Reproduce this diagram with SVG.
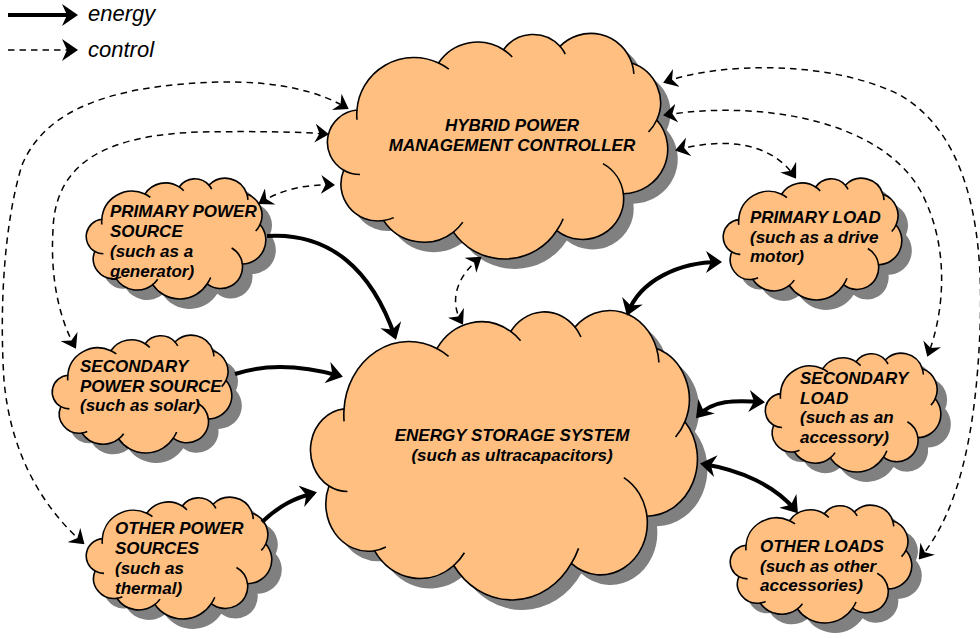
<svg xmlns="http://www.w3.org/2000/svg" xmlns:xlink="http://www.w3.org/1999/xlink" width="980" height="639" viewBox="0 0 980 639">
<style>
.shadow{fill:#808080;stroke:none}
.body{fill:#FFBF80;stroke:#000;stroke-width:1.6}
.t{font-family:"Liberation Sans",Arial,sans-serif;font-size:17px;font-weight:bold;font-style:italic;fill:#000}
.leg{font-family:"Liberation Sans",Arial,sans-serif;font-size:22px;font-style:italic;fill:#000}
.energy{fill:none;stroke:#000;stroke-width:4;marker-start:url(#ah);marker-end:url(#ah)}
.control{fill:none;stroke:#000;stroke-width:1.5;stroke-dasharray:6.5 5;marker-start:url(#ch);marker-end:url(#ch)}
</style>
<defs>
<marker id="ah" markerUnits="userSpaceOnUse" viewBox="0 0 16 22" markerWidth="16" markerHeight="22" refX="13" refY="11" orient="auto-start-reverse"><path d="M0,0 L16,11 L0,22 L5,11 Z" fill="#000"/></marker>
<marker id="ch" markerUnits="userSpaceOnUse" viewBox="0 0 14 19" markerWidth="14" markerHeight="19" refX="12" refY="9.5" orient="auto-start-reverse"><path d="M0,0 L14,9.5 L0,19 L4.5,9.5 Z" fill="#000"/></marker>
<symbol id="cloud" viewBox="0 0 150 100" preserveAspectRatio="none" overflow="visible">
<path vector-effect="non-scaling-stroke" d="M13.1,34.1 A25,25 0 0,1 48.8,13.3 A20.5,20.5 0 0,1 77.2,7.4 A15.8,15.8 0 0,1 101.9,5.9 A18.8,18.8 0 0,1 133.3,13.3 A18.5,18.5 0 0,1 144.2,38.5 A19.7,19.7 0 0,1 129.6,71.1 A18,18 0 0,1 100.5,87.4 A27,27 0 0,1 55.3,88.1 A20.9,20.9 0 0,1 24.8,83 A16.3,16.3 0 0,1 7.3,60.7 A14.3,14.3 0 0,1 13.1,34.1 Z"/>
<path vector-effect="non-scaling-stroke" fill="none" d="M48.8,13.3 A25,25 0 0,1 53.3,16 M77.2,7.4 A20.5,20.5 0 0,1 81,10.6 M101.9,5.9 A15.8,15.8 0 0,1 104.2,9.3 M133.3,13.3 A18.8,18.8 0 0,1 134.2,18.1 M144.2,38.5 A18.5,18.5 0 0,1 140.6,43.8 M120.7,57.8 A18,18 0 0,1 129.6,71.1 M103.3,82.2 A27,27 0 0,1 100.5,87.4 M59.4,83.7 A20.9,20.9 0 0,1 55.3,88.1 M29.2,81.7 A16.3,16.3 0 0,1 24.8,83 M14.4,62.6 A14.3,14.3 0 0,1 7.3,60.7 M13.1,38.4 A25,25 0 0,1 13.1,34.1"/>
</symbol>
</defs>
<rect width="980" height="639" fill="#fff"/>

<g id="legend">
<path d="M8,15 H75" fill="none" stroke="#000" stroke-width="4" marker-end="url(#ah)"/>
<text class="leg" x="88" y="21">energy</text>
<path d="M8,50 H75" fill="none" stroke="#000" stroke-width="1.5" stroke-dasharray="6.5 5" marker-end="url(#ah)"/>
<text class="leg" x="88" y="57">control</text>
</g>

<g id="controller">
<use xlink:href="#cloud" class="shadow" x="337" y="43" width="343" height="226"/>
<use xlink:href="#cloud" class="body" x="327" y="33" width="343" height="226"/>
<text class="t" text-anchor="middle" x="512" y="131">HYBRID POWER</text>
<text class="t" text-anchor="middle" x="512" y="151">MANAGEMENT CONTROLLER</text>
</g>

<g id="primary-source">
<use xlink:href="#cloud" class="shadow" x="96" y="188" width="181" height="121"/>
<use xlink:href="#cloud" class="body" x="86" y="178" width="181" height="121"/>
<text class="t" x="110" y="217">PRIMARY POWER</text>
<text class="t" x="110" y="237">SOURCE</text>
<text class="t" x="110" y="257">(such as a</text>
<text class="t" x="110" y="277">generator)</text>
</g>

<g id="secondary-source">
<use xlink:href="#cloud" class="shadow" x="62" y="345" width="181" height="118"/>
<use xlink:href="#cloud" class="body" x="52" y="335" width="181" height="118"/>
<text class="t" x="80" y="372">SECONDARY</text>
<text class="t" x="80" y="392">POWER SOURCE</text>
<text class="t" x="80" y="411">(such as solar)</text>
</g>

<g id="other-sources">
<use xlink:href="#cloud" class="shadow" x="96" y="507" width="187" height="122"/>
<use xlink:href="#cloud" class="body" x="86" y="497" width="187" height="122"/>
<text class="t" x="115" y="534">OTHER POWER</text>
<text class="t" x="115" y="554">SOURCES</text>
<text class="t" x="115" y="574">(such as</text>
<text class="t" x="115" y="594">thermal)</text>
</g>

<g id="primary-load">
<use xlink:href="#cloud" class="shadow" x="733" y="188" width="180" height="122"/>
<use xlink:href="#cloud" class="body" x="723" y="178" width="180" height="122"/>
<text class="t" x="750" y="223">PRIMARY LOAD</text>
<text class="t" x="750" y="243">(such as a drive</text>
<text class="t" x="750" y="262">motor)</text>
</g>

<g id="secondary-load">
<use xlink:href="#cloud" class="shadow" x="775" y="363" width="177" height="119"/>
<use xlink:href="#cloud" class="body" x="765" y="353" width="177" height="119"/>
<text class="t" x="800" y="384">SECONDARY</text>
<text class="t" x="800" y="404">LOAD</text>
<text class="t" x="800" y="423">(such as an</text>
<text class="t" x="800" y="443">accessory)</text>
</g>

<g id="other-loads">
<use xlink:href="#cloud" class="shadow" x="740" y="515" width="183" height="118"/>
<use xlink:href="#cloud" class="body" x="730" y="505" width="183" height="118"/>
<text class="t" x="760" y="552">OTHER LOADS</text>
<text class="t" x="760" y="572">(such as other</text>
<text class="t" x="760" y="591">accessories)</text>
</g>

<g id="storage">
<use xlink:href="#cloud" class="shadow" x="320" y="320" width="390" height="290"/>
<use xlink:href="#cloud" class="body" x="310" y="310" width="390" height="290"/>
<text class="t" text-anchor="middle" x="512" y="441">ENERGY STORAGE SYSTEM</text>
<text class="t" text-anchor="middle" x="512" y="461">(such as ultracapacitors)</text>
</g>

<g id="connectors">
<path d="M267,236 C330,232 372,270 395,337" fill="none" stroke="#000" stroke-width="4" marker-end="url(#ah)"/>
<path d="M235,374 C265,364 300,365 340,376" fill="none" stroke="#000" stroke-width="4" marker-end="url(#ah)"/>
<path d="M262,522 C280,505 295,498 314,493" fill="none" stroke="#000" stroke-width="4" marker-end="url(#ah)"/>
<path class="energy" d="M628,313 C640,280 680,262 719,262"/>
<path class="energy" d="M698,416 C712,400 735,400 762,402"/>
<path class="energy" d="M703,464 C740,470 775,485 796,511"/>
<path class="control" d="M83,543 C40,505 10,450 4,380 C0,320 2,230 22,165 C45,110 110,85 220,82 C280,81 320,92 347,108"/>
<path class="control" d="M75,347 C60,320 50,280 53,230 C55,160 110,135 200,132 C260,131 300,132 327,134"/>
<path class="control" d="M260,203 C280,190 305,184 333,185"/>
<path class="control" d="M665,82 C720,62 830,60 900,95 C960,130 985,210 980,330 C976,430 960,510 920,558"/>
<path class="control" d="M665,115 C760,100 880,120 920,190 C950,245 945,310 928,355"/>
<path class="control" d="M677,150 C720,138 770,140 795,177"/>
<path class="control" d="M480,258 C458,275 448,300 462,323"/>
</g>
</svg>
